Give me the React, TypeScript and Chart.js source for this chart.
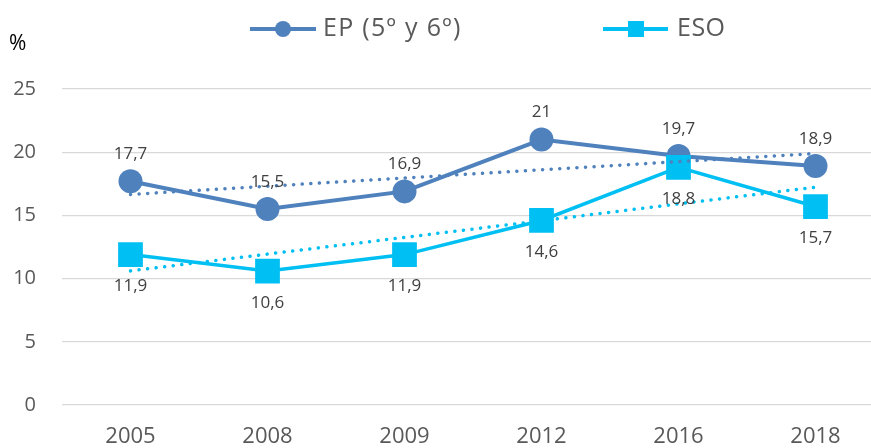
import { useEffect, useRef } from "react";
import { Chart, registerables } from "chart.js";
Chart.register(...registerables);

const years = ["2005", "2008", "2009", "2012", "2016", "2018"];
const epValues = [17.7, 15.5, 16.9, 21, 19.7, 18.9];
const esoValues = [11.9, 10.6, 11.9, 14.6, 18.8, 15.7];
const epTrend = [16.66, 17.31, 17.96, 18.61, 19.25, 19.9];
const esoTrend = [10.61, 11.94, 13.26, 14.58, 15.91, 17.23];
const epLabel = "EP (5º y 6º)";
const esoLabel = "ESO";

const EP_COLOR = "#4F81BD";
const ESO_COLOR = "#00BFF3";
const FONT = "'Open Sans', sans-serif";

const fmt = (v: number) => String(v).replace(".", ",");

const valueLabels = {
  id: "valueLabels",
  afterDatasetsDraw(chart: any) {
    const ctx = chart.ctx;
    ctx.save();
    ctx.font = `17px ${FONT}`;
    ctx.fillStyle = "#404040";
    ctx.textAlign = "center";
    ctx.textBaseline = "middle";
    chart.data.datasets.forEach((ds: any, i: number) => {
      if (ds.isTrend) return;
      const meta = chart.getDatasetMeta(i);
      const above = ds.label === epLabel;
      meta.data.forEach((pt: any, j: number) => {
        const v = ds.data[j];
        const y = above ? pt.y - 27 : pt.y + 32;
        ctx.fillText(fmt(v), pt.x, y);
      });
    });
    ctx.restore();
  },
};

const customLegend = {
  id: "customLegend",
  afterDraw(chart: any) {
    const ctx = chart.ctx;
    ctx.save();
    const y = 29;
    ctx.font = `21px ${FONT}`;
    ctx.fillStyle = "#000000";
    ctx.textAlign = "left";
    ctx.textBaseline = "alphabetic";
    ctx.fillText("%", 9, 50);

    ctx.font = `25px ${FONT}`;
    ctx.textBaseline = "middle";
    ctx.strokeStyle = EP_COLOR;
    ctx.lineWidth = 4;
    ctx.beginPath();
    ctx.moveTo(250, y);
    ctx.lineTo(316, y);
    ctx.stroke();
    ctx.fillStyle = EP_COLOR;
    ctx.beginPath();
    ctx.arc(283, y, 8, 0, Math.PI * 2);
    ctx.fill();
    ctx.fillStyle = "#595959";
    (ctx as any).letterSpacing = "1.3px";
    ctx.fillText(epLabel, 323, y);
    (ctx as any).letterSpacing = "0.5px";
    ctx.strokeStyle = ESO_COLOR;
    ctx.lineWidth = 4;
    ctx.beginPath();
    ctx.moveTo(603, y);
    ctx.lineTo(668, y);
    ctx.stroke();
    ctx.fillStyle = ESO_COLOR;
    ctx.fillRect(628, y - 8, 16, 16);
    ctx.fillStyle = "#595959";
    ctx.fillText(esoLabel, 677, y);
    ctx.restore();
  },
};

export default function App() {
  const ref = useRef<HTMLCanvasElement | null>(null);
  useEffect(() => {
    if (!ref.current) return;
    const chart = new Chart(ref.current, {
      type: "line",
      data: {
        labels: years,
        datasets: [
          {
            label: "trendEP",
            isTrend: true,
            data: epTrend,
            borderColor: EP_COLOR,
            borderWidth: 3.5,
            borderDash: [0.1, 8.5],
            borderCapStyle: "round",
            pointRadius: 0,
            order: 0,
          } as any,
          {
            label: "trendESO",
            isTrend: true,
            data: esoTrend,
            borderColor: ESO_COLOR,
            borderWidth: 3.5,
            borderDash: [0.1, 8.5],
            borderCapStyle: "round",
            pointRadius: 0,
            order: 1,
          } as any,
          {
            label: esoLabel,
            data: esoValues,
            borderColor: ESO_COLOR,
            backgroundColor: ESO_COLOR,
            borderWidth: 3.5,
            pointStyle: "rect",
            pointRadius: 17.5,
            pointBorderWidth: 0,
            order: 2,
          },
          {
            label: epLabel,
            data: epValues,
            borderColor: EP_COLOR,
            backgroundColor: EP_COLOR,
            borderWidth: 4,
            pointStyle: "circle",
            pointRadius: 12,
            pointBorderWidth: 0,
            order: 3,
          },
        ],
      },
      options: {
        animation: false,
        responsive: false,
        maintainAspectRatio: false,
        devicePixelRatio: 1,
        layout: { autoPadding: false, padding: { top: 89, left: 0, right: 0, bottom: 0 } },
        plugins: {
          legend: { display: false },
          tooltip: { enabled: false },
        },
        scales: {
          x: {
            type: "category",
            offset: true,
            afterFit: (s: any) => {
              s.height = 43;
              s.paddingLeft = 0;
              s.paddingRight = 0;
            },
            grid: { display: false },
            border: { display: false },
            ticks: {
              color: "#595959",
              font: { family: FONT, size: 22 },
              padding: 11,
            },
          },
          y: {
            min: 0,
            max: 25,
            afterFit: (s: any) => {
              s.width = 62;
            },
            grid: { color: "#D9D9D9", lineWidth: 1.3, drawTicks: false },
            border: { display: false },
            ticks: {
              stepSize: 5,
              color: "#595959",
              font: { family: FONT, size: 20 },
              padding: 26,
            },
          },
        },
      },
      plugins: [valueLabels, customLegend],
    });
    return () => chart.destroy();
  }, []);
  return (
    <div style={{ position: "fixed", left: 0, top: 0, width: 871, height: 448, overflow: "hidden", background: "#fff" }}>
      <canvas ref={ref} width={884} height={448} style={{ display: "block", width: 884, height: 448 }} />
    </div>
  );
}
